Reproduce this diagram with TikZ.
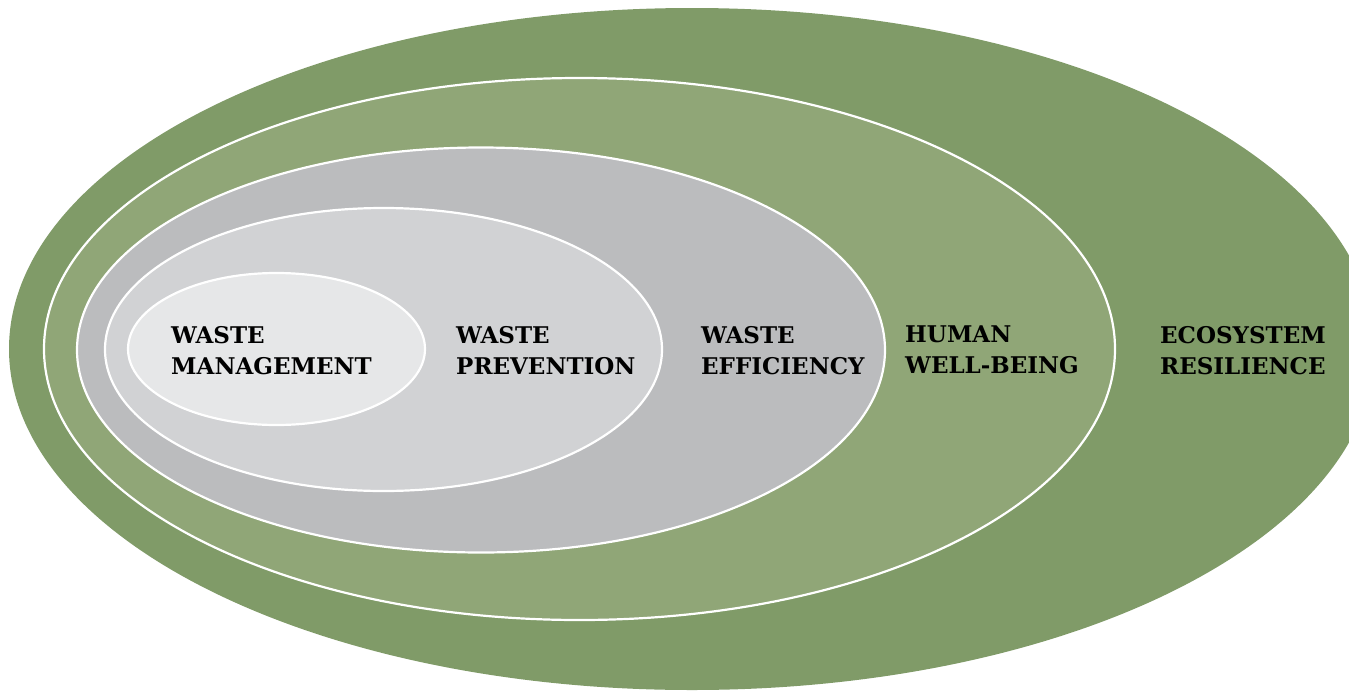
\documentclass[tikz,border=0pt]{standalone}
\usepackage{fontspec}
\setmainfont{DejaVu Serif}[BoldFont={DejaVu Serif Bold}]
\usetikzlibrary{shapes.geometric}
\definecolor{gOuter}{HTML}{809B68}
\definecolor{gInner}{HTML}{90A677}
\definecolor{grA}{HTML}{BBBCBE}
\definecolor{grB}{HTML}{D1D2D4}
\definecolor{grC}{HTML}{E6E7E8}
\tikzset{
  ring/.style={ellipse, inner sep=0pt, draw=white, line width=2.2pt},
  lbl/.style={anchor=north west, align=left, inner sep=0pt, font=\fontsize{23}{31}\selectfont\bfseries, text=black},
}
\begin{document}
\begin{tikzpicture}[x=1pt,y=-1pt]
\useasboundingbox (0,0) rectangle (1349,691);
\clip (0,0) rectangle (1349,691);
\node[ring, draw=none, fill=gOuter, minimum width=1366pt, minimum height=682pt] (eco) at (692,349) {};
\node[ring, fill=gInner, minimum width=1071pt, minimum height=542pt] (hum) at (579.5,349) {};
\node[ring, fill=grA, minimum width=808pt, minimum height=405pt] (eff) at (481,350) {};
\node[ring, fill=grB, minimum width=557pt, minimum height=283pt] (prev) at (383.5,349.5) {};
\node[ring, fill=grC, minimum width=297pt, minimum height=152pt] (man) at (276.5,349) {};
\node[lbl] (tman) at (171,326) {WASTE\\MANAGEMENT};
\node[lbl] (tprev) at (456,326) {WASTE\\PREVENTION};
\node[lbl] (teff) at (701,326) {WASTE\\EFFICIENCY};
\node[lbl] (thum) at (905,326) {HUMAN\\WELL-BEING};
\node[lbl] (teco) at (1160,326) {ECOSYSTEM\\RESILIENCE};
\end{tikzpicture}
\end{document}
